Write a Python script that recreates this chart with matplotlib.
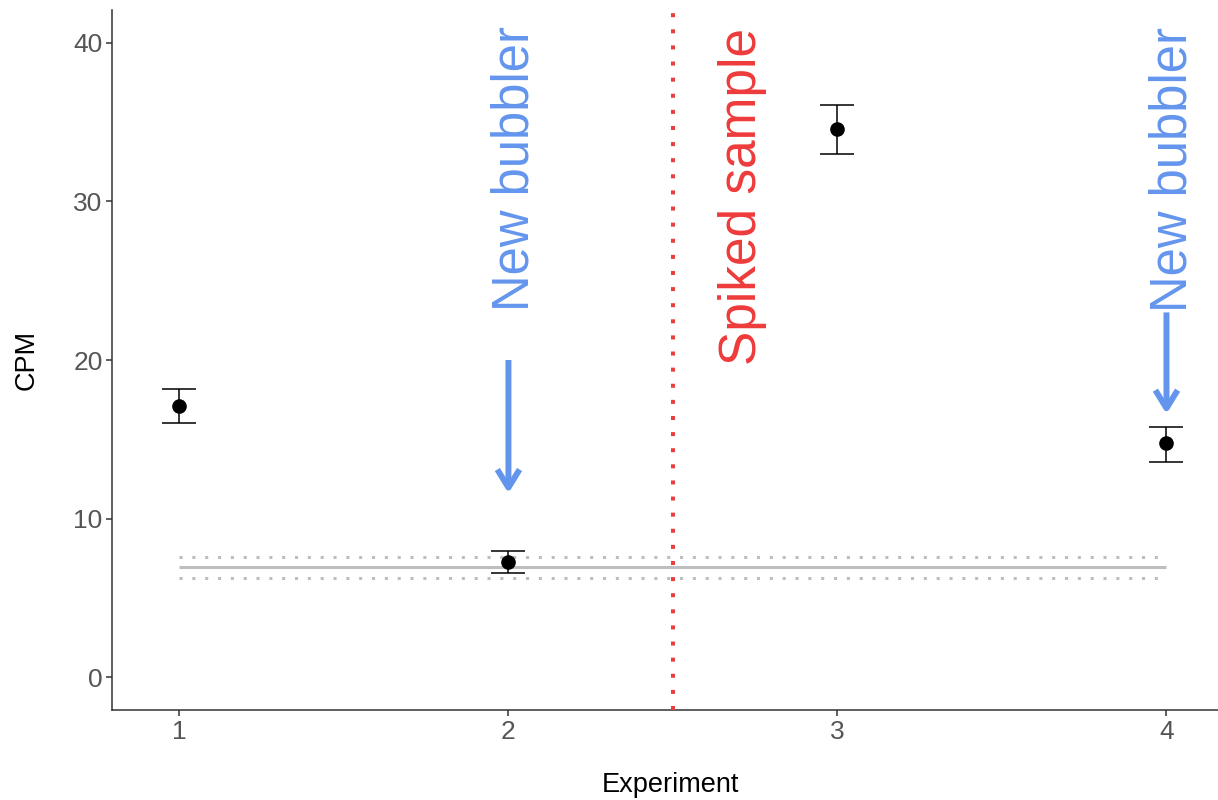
import matplotlib.pyplot as plt
from matplotlib.patches import FancyArrowPatch

plt.rcParams['font.family'] = ['Liberation Sans', 'DejaVu Sans']

# measured values, CPM per experiment
experiment = [1, 2, 3, 4]
cpm = [17.1, 7.27, 34.55, 14.75]
cpm_low = [16.0, 6.57, 33.0, 13.6]
cpm_high = [18.15, 7.96, 36.1, 15.8]

# background level (mean and band)
bg_x = [1, 4]
bg_mean = 6.95
bg_low = 6.25
bg_high = 7.6

spike_x = 2.5
y_ticks = [0, 10, 20, 30, 40]

# arrows: x, start, end
arrow_x = [2, 4]
arrow_from = [20, 23]
arrow_to = [11.6, 16.6]

blue = '#6495ED'
red = '#EE3B3B'

fig = plt.figure(figsize=(12.18, 8), dpi=100)
ax = fig.add_axes([112.3 / 1218, 90 / 800, 1116.7 / 1218, 700 / 800])

err_lo = [c - l for c, l in zip(cpm, cpm_low)]
err_hi = [h - c for c, h in zip(cpm, cpm_high)]
ax.errorbar(experiment, cpm, yerr=[err_lo, err_hi], fmt='o', color='black',
            markersize=9.5, elinewidth=1.1, capsize=12, capthick=1.1, zorder=4)

ax.plot(bg_x, [bg_mean, bg_mean], color='#BEBEBE', lw=2.2, solid_capstyle='butt', zorder=2)
for yy in (bg_low, bg_high):
    ax.plot(bg_x, [yy, yy], color='#BEBEBE', lw=2.2, linestyle=(0, (1, 3.2)),
            dash_capstyle='butt', zorder=2)

ax.axvline(spike_x, color='#E8403F', lw=2.9, linestyle=(0, (1, 3)), dash_capstyle='butt', zorder=3)

# annotations
ax.text(2.062, 32.1, 'New bubbler', rotation=90, rotation_mode='anchor',
        ha='center', va='baseline', fontsize=36.5, color=blue)
ax.text(4.062, 32.0, 'New bubbler', rotation=90, rotation_mode='anchor',
        ha='center', va='baseline', fontsize=36.5, color=blue)
ax.text(2.752, 30.3, 'Spiked sample', rotation=90, rotation_mode='anchor',
        ha='center', va='baseline', fontsize=37, color=red)

for x0, y0, y1 in zip(arrow_x, arrow_from, arrow_to):
    arr = FancyArrowPatch((x0, y0), (x0, y1),
                          arrowstyle='->,head_length=13,head_width=8',
                          mutation_scale=1, lw=4.3, color=blue,
                          shrinkA=0, shrinkB=0, capstyle='butt', zorder=3)
    ax.add_patch(arr)

ax.set_xlim(0.796, 4.19)
ax.set_ylim(-2.06, 42.06)
ax.set_xticks(experiment)
ax.set_yticks(y_ticks)

for s in ['top', 'right']:
    ax.spines[s].set_visible(False)
for s in ['left', 'bottom']:
    ax.spines[s].set_color('#333333')
    ax.spines[s].set_linewidth(1.1)

ax.tick_params(axis='both', length=4, width=1.1, color='#333333',
               labelsize=19, labelcolor='#555555', pad=3)

ax.set_xlabel('Experiment', fontsize=19.5, color='black', labelpad=20)
ax.set_ylabel('CPM', fontsize=19.5, color='black', labelpad=24)

fig.savefig('out.png', dpi=100)
